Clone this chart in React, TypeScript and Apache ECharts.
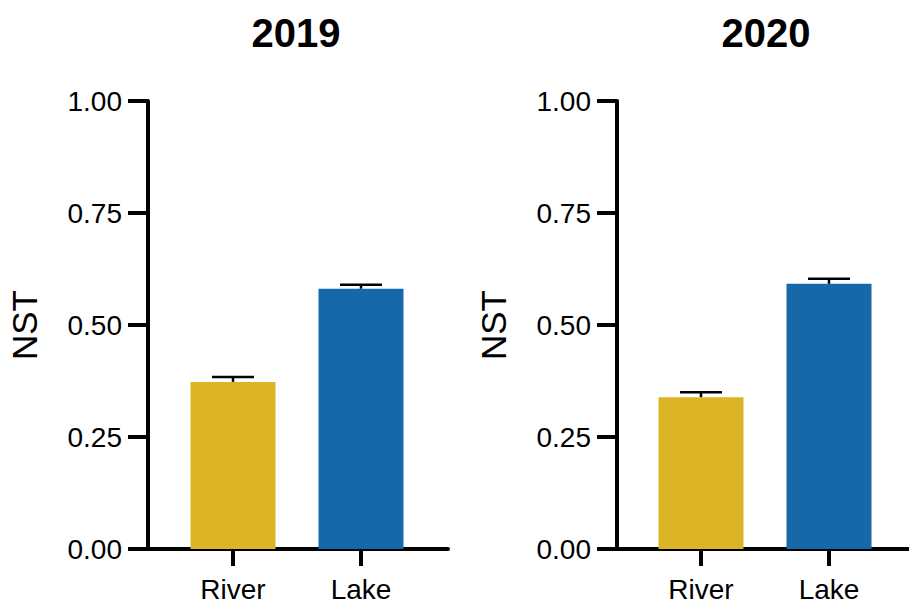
import React, { useEffect, useRef } from "react";
import * as echarts from "echarts";

const categories = ["River", "Lake"];
const years = ["2019", "2020"];
const nst2019 = [0.373, 0.581];
const err2019 = [0.011, 0.009];
const nst2020 = [0.339, 0.592];
const err2020 = [0.011, 0.011];
const yMin = 0;
const yMax = 1;
const yInterval = 0.25;
const barColors = ["#DBB525", "#1668A8"];

const FONT = "'Liberation Sans', Arial, Helvetica, sans-serif";

export default function App() {
  const ref = useRef<HTMLDivElement>(null);

  useEffect(() => {
    if (!ref.current) return;
    const chart = echarts.init(ref.current, null, { renderer: "svg" });

    const panels = [
      { frameLeft: 148, frameRight: 909 - 448, barLeft: 169, nameGap: 106, values: nst2019, errs: err2019, title: years[0], titleX: 291 },
      { frameLeft: 617, frameRight: 0, barLeft: 637, nameGap: 106, values: nst2020, errs: err2020, title: years[1], titleX: 761 },
    ];

    const grids: any[] = [];
    const xAxes: any[] = [];
    const yAxes: any[] = [];
    const series: any[] = [];
    const titles: any[] = [];

    panels.forEach((p, i) => {
      const fg = i * 2;
      const bg = i * 2 + 1;
      grids.push({ left: p.frameLeft, right: p.frameRight, top: 101, bottom: 56, containLabel: false });
      grids.push({ left: p.barLeft, width: 256, top: 101, bottom: 56, containLabel: false });

      xAxes.push({
        gridIndex: fg,
        type: "value",
        min: 0,
        max: 1,
        axisLine: { show: true, lineStyle: { color: "#000", width: 4 } },
        axisTick: { show: false },
        axisLabel: { show: false },
        splitLine: { show: false },
      });
      xAxes.push({
        gridIndex: bg,
        type: "category",
        data: categories,
        axisLine: { show: false },
        axisTick: { show: true, alignWithLabel: true, length: 17, lineStyle: { color: "#000", width: 4 } },
        axisLabel: { color: "#000", fontSize: 28, fontFamily: FONT, margin: 26 },
        splitLine: { show: false },
      });

      yAxes.push({
        gridIndex: fg,
        type: "value",
        min: yMin,
        max: yMax,
        interval: yInterval,
        name: "NST",
        nameLocation: "middle",
        nameRotate: 90,
        nameGap: p.nameGap,
        nameTextStyle: { color: "#000", fontSize: 35, fontFamily: FONT },
        axisLine: { show: true, lineStyle: { color: "#000", width: 4 } },
        axisTick: { show: true, inside: false, length: 20, lineStyle: { color: "#000", width: 4 } },
        axisLabel: { color: "#000", fontSize: 28, fontFamily: FONT, margin: 26, formatter: (v: number) => v.toFixed(2) },
        splitLine: { show: false },
      });
      yAxes.push({
        gridIndex: bg,
        type: "value",
        min: yMin,
        max: yMax,
        show: false,
        splitLine: { show: false },
      });

      series.push({
        type: "bar",
        xAxisIndex: bg,
        yAxisIndex: bg,
        barWidth: 85,
        data: p.values.map((v, k) => ({ value: v, itemStyle: { color: barColors[k] } })),
      });
      series.push({
        type: "custom",
        xAxisIndex: bg,
        yAxisIndex: bg,
        z: 5,
        data: p.values.map((v, k) => [k, v, p.errs[k]]),
        renderItem: (params: any, api: any) => {
          const x = api.value(0);
          const v = api.value(1);
          const e = api.value(2);
          const base = api.coord([x, v]);
          const top = api.coord([x, v + e]);
          const half = 21;
          return {
            type: "group",
            children: [
              { type: "line", shape: { x1: top[0], y1: base[1], x2: top[0], y2: top[1] }, style: { stroke: "#000", lineWidth: 2.5 } },
              { type: "line", shape: { x1: top[0] - half, y1: top[1], x2: top[0] + half, y2: top[1] }, style: { stroke: "#000", lineWidth: 2.5 } },
            ],
          };
        },
      });

      titles.push({
        text: p.title,
        left: p.titleX,
        top: 8,
        textAlign: "center",
        textStyle: { color: "#000", fontSize: 40, fontWeight: "bold", fontFamily: FONT },
      });
    });

    chart.setOption({
      animation: false,
      backgroundColor: "#fff",
      title: titles,
      grid: grids,
      xAxis: xAxes,
      yAxis: yAxes,
      series,
    });

    return () => chart.dispose();
  }, []);

  return <div ref={ref} style={{ position: "fixed", left: 0, top: 0, width: 909, height: 605 }} />;
}
